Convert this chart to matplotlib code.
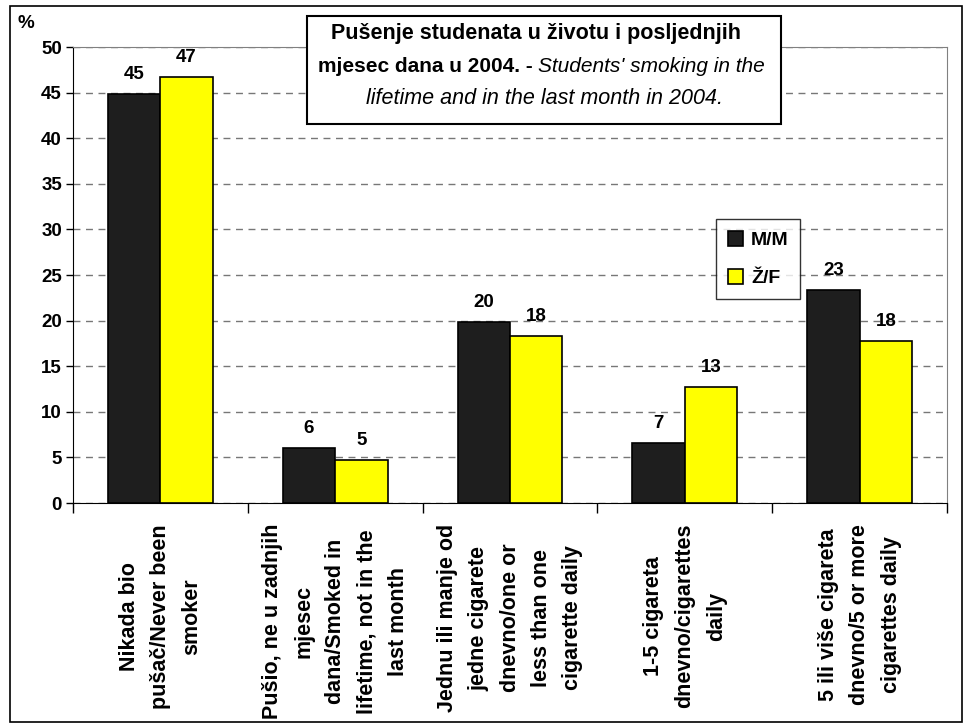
import numpy as np
import matplotlib.pyplot as plt
from matplotlib.patches import Rectangle

plt.rcParams['font.family'] = ['Liberation Sans', 'DejaVu Sans']

categories = ["Nikada bio\npušač/Never been\nsmoker",
              "Pušio, ne u zadnjih\nmjesec\ndana/Smoked in\nlifetime, not in the\nlast month",
              "Jednu ili manje od\njedne cigarete\ndnevno/one or\nless than one\ncigarette daily",
              "1-5 cigareta\ndnevno/cigarettes\ndaily",
              "5 ili više cigareta\ndnevno/5 or more\ncigarettes daily"]
male = [44.8, 6.0, 19.9, 6.6, 23.4]
female = [46.7, 4.7, 18.3, 12.7, 17.8]
male_lbl = ["45", "6", "20", "7", "23"]
female_lbl = ["47", "5", "18", "13", "18"]

fig = plt.figure(figsize=(9.73, 7.27), dpi=100)
ax = fig.add_axes([73/973, 1-503/727, 874/973, 456/727])

x = np.arange(len(categories))
w = 0.30
ax.bar(x - w/2, male, w, color='#1e1e1e', edgecolor='black', linewidth=1.2, label='M/M', zorder=3)
ax.bar(x + w/2, female, w, color='#ffff00', edgecolor='black', linewidth=1.2, label='Ž/F', zorder=3)

for i in range(len(x)):
    ax.text(x[i] - w/2, male[i] + 1.2, male_lbl[i], ha='center', va='bottom',
            fontsize=13.5, fontweight='bold')
    ax.text(x[i] + w/2, female[i] + 1.2, female_lbl[i], ha='center', va='bottom',
            fontsize=13.5, fontweight='bold')

ax.set_xlim(-0.5, len(x) - 0.5)
ax.set_ylim(0, 50)
ax.set_yticks(range(0, 51, 5))
ax.set_yticklabels([str(v) for v in range(0, 51, 5)], fontsize=13.5, fontweight='bold')
ax.yaxis.grid(True, linestyle=(0, (5, 4)), color='#777777', linewidth=1, zorder=0)
ax.set_axisbelow(True)

ax.set_xticks(np.arange(-0.5, len(x)))
ax.set_xticklabels([])
ax.tick_params(axis='x', direction='out', length=7, width=1, color='black')
ax.tick_params(axis='y', direction='out', length=5, width=1, color='black', pad=3)
for i, c in enumerate(categories):
    ax.text(x[i], -2.3, c, rotation=90, ha='center', va='top', fontsize=15.5,
            fontweight='bold', linespacing=1.65, multialignment='center')

ax.spines['left'].set_color('black')
ax.spines['bottom'].set_color('black')
ax.spines['top'].set_color('#808080')
ax.spines['right'].set_color('#808080')

fig.text(18/973, 1-23/727, "%", fontsize=13.5, fontweight='bold', ha='left', va='center')

leg = ax.legend(loc='upper left', bbox_to_anchor=((716-73)/874, 1-(219-47)/456),
                prop={'weight': 'bold', 'size': 14}, frameon=True,
                fancybox=False, edgecolor='black', handlelength=0.8, handleheight=0.8,
                handletextpad=0.4, borderpad=0.6, labelspacing=1.05, borderaxespad=0)
leg.get_frame().set_linewidth(1)

# title box
fig.patches.append(Rectangle((307/973, 1-124/727), 474/973, 108/727, transform=fig.transFigure,
                             facecolor='white', edgecolor='black', linewidth=1.5, zorder=5))
fig.text(536/973, 1-33/727, "Pušenje studenata u životu i posljednjih", ha='center', va='center',
         fontsize=15.5, fontweight='bold', zorder=6)
fig.text(538/973, 1-66/727, "mjesec dana u 2004. - ", ha='right', va='center',
         fontsize=15, fontweight='bold', zorder=6)
fig.text(538/973, 1-66/727, "Students' smoking in the", ha='left', va='center',
         fontsize=15, style='italic', zorder=6)
fig.text(545/973, 1-99/727, "lifetime and in the last month in 2004.", ha='center', va='center',
         fontsize=15.5, style='italic', zorder=6)

# outer border
fig.patches.append(Rectangle((10/973, 5/727), 952/973, 716/727, transform=fig.transFigure,
                             facecolor='none', edgecolor='black', linewidth=1.2))

plt.savefig("out.png", dpi=100)
plt.close()
